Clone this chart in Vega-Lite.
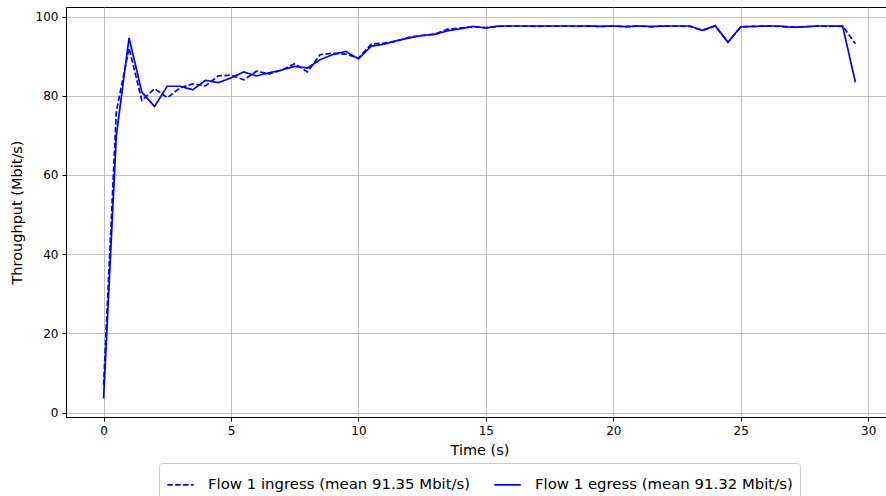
{
  "$schema": "https://vega.github.io/schema/vega-lite/v6.json",
  "width": 827,
  "height": 410,
  "autosize": "none",
  "padding": {"left": 66, "top": 7, "right": 0, "bottom": 79},
  "background": "white",
  "config": {
    "font": "DejaVu Sans",
    "view": {"stroke": "black", "strokeWidth": 1},
    "axis": {
      "labelFont": "DejaVu Sans",
      "titleFont": "DejaVu Sans",
      "labelFontSize": 12,
      "titleFontSize": 14.5,
      "titleFontWeight": "normal",
      "labelColor": "black",
      "titleColor": "black",
      "tickColor": "black",
      "domainColor": "black",
      "tickSize": 4,
      "gridColor": "#b0b0b0",
      "gridWidth": 1,
      "gridOpacity": 0.8
    },
    "legend": {
      "labelFont": "DejaVu Sans",
      "labelFontSize": 14.9,
      "labelColor": "black",
      "labelLimit": 500
    }
  },
  "datasets": {
    "ingress": [
      {"t": 0, "v": 7}, {"t": 0.5, "v": 76}, {"t": 1, "v": 92}, {"t": 1.5, "v": 78.8},
      {"t": 2, "v": 81.8}, {"t": 2.5, "v": 79.5}, {"t": 3, "v": 82}, {"t": 3.5, "v": 83},
      {"t": 4, "v": 82.5}, {"t": 4.5, "v": 85}, {"t": 5, "v": 85.2}, {"t": 5.5, "v": 84},
      {"t": 6, "v": 86.2}, {"t": 6.5, "v": 85.5}, {"t": 7, "v": 86.5}, {"t": 7.5, "v": 88.1},
      {"t": 8, "v": 86}, {"t": 8.5, "v": 90.4}, {"t": 9, "v": 90.7}, {"t": 9.5, "v": 90.5},
      {"t": 10, "v": 89.5}, {"t": 10.5, "v": 93}, {"t": 11, "v": 93.3}, {"t": 11.5, "v": 93.8},
      {"t": 12, "v": 94.8}, {"t": 12.5, "v": 95.2}, {"t": 13, "v": 95.6}, {"t": 13.5, "v": 96.8},
      {"t": 14, "v": 97.1}, {"t": 14.5, "v": 97.4}, {"t": 15, "v": 97.2}, {"t": 15.5, "v": 97.5},
      {"t": 16, "v": 97.6}, {"t": 16.5, "v": 97.6}, {"t": 17, "v": 97.5}, {"t": 17.5, "v": 97.6},
      {"t": 18, "v": 97.6}, {"t": 18.5, "v": 97.5}, {"t": 19, "v": 97.6}, {"t": 19.5, "v": 97.5},
      {"t": 20, "v": 97.6}, {"t": 20.5, "v": 97.5}, {"t": 21, "v": 97.6}, {"t": 21.5, "v": 97.4},
      {"t": 22, "v": 97.6}, {"t": 22.5, "v": 97.6}, {"t": 23, "v": 97.5}, {"t": 23.5, "v": 96.5},
      {"t": 24, "v": 97.6}, {"t": 24.5, "v": 93.5}, {"t": 25, "v": 97.4}, {"t": 25.5, "v": 97.5},
      {"t": 26, "v": 97.6}, {"t": 26.5, "v": 97.5}, {"t": 27, "v": 97.3}, {"t": 27.5, "v": 97.4},
      {"t": 28, "v": 97.6}, {"t": 28.5, "v": 97.5}, {"t": 29, "v": 97.6}, {"t": 29.5, "v": 93.1}
    ],
    "egress": [
      {"t": 0, "v": 3.6}, {"t": 0.5, "v": 70}, {"t": 1, "v": 94.6}, {"t": 1.5, "v": 80.9},
      {"t": 2, "v": 77.3}, {"t": 2.5, "v": 82.4}, {"t": 3, "v": 82.4}, {"t": 3.5, "v": 81.5},
      {"t": 4, "v": 83.9}, {"t": 4.5, "v": 83.3}, {"t": 5, "v": 84.5}, {"t": 5.5, "v": 86},
      {"t": 6, "v": 85}, {"t": 6.5, "v": 85.8}, {"t": 7, "v": 86.5}, {"t": 7.5, "v": 87.4},
      {"t": 8, "v": 87}, {"t": 8.5, "v": 89.1}, {"t": 9, "v": 90.4}, {"t": 9.5, "v": 91.2},
      {"t": 10, "v": 89.3}, {"t": 10.5, "v": 92.5}, {"t": 11, "v": 93}, {"t": 11.5, "v": 93.9},
      {"t": 12, "v": 94.6}, {"t": 12.5, "v": 95.2}, {"t": 13, "v": 95.5}, {"t": 13.5, "v": 96.4},
      {"t": 14, "v": 96.9}, {"t": 14.5, "v": 97.5}, {"t": 15, "v": 97.1}, {"t": 15.5, "v": 97.6},
      {"t": 16, "v": 97.6}, {"t": 16.5, "v": 97.6}, {"t": 17, "v": 97.6}, {"t": 17.5, "v": 97.6},
      {"t": 18, "v": 97.6}, {"t": 18.5, "v": 97.6}, {"t": 19, "v": 97.6}, {"t": 19.5, "v": 97.5},
      {"t": 20, "v": 97.6}, {"t": 20.5, "v": 97.4}, {"t": 21, "v": 97.6}, {"t": 21.5, "v": 97.5},
      {"t": 22, "v": 97.6}, {"t": 22.5, "v": 97.6}, {"t": 23, "v": 97.6}, {"t": 23.5, "v": 96.5},
      {"t": 24, "v": 97.7}, {"t": 24.5, "v": 93.5}, {"t": 25, "v": 97.4}, {"t": 25.5, "v": 97.5},
      {"t": 26, "v": 97.6}, {"t": 26.5, "v": 97.6}, {"t": 27, "v": 97.3}, {"t": 27.5, "v": 97.4},
      {"t": 28, "v": 97.6}, {"t": 28.5, "v": 97.6}, {"t": 29, "v": 97.5}, {"t": 29.5, "v": 83.4}
    ]
  },
  "layer": [
    {
      "data": {"name": "ingress"},
      "transform": [{"calculate": "'Flow 1 ingress (mean 91.35 Mbit/s)'", "as": "series"}],
      "mark": {"type": "line", "color": "#0000ff", "strokeWidth": 1.7},
      "encoding": {
        "x": {"field": "t", "type": "quantitative"},
        "y": {"field": "v", "type": "quantitative"},
        "strokeDash": {"field": "series", "type": "nominal"}
      }
    },
    {
      "data": {"name": "egress"},
      "transform": [{"calculate": "'Flow 1 egress (mean 91.32 Mbit/s)'", "as": "series"}],
      "mark": {"type": "line", "color": "#0000ff", "strokeWidth": 1.7},
      "encoding": {
        "x": {
          "field": "t", "type": "quantitative",
          "scale": {"domain": [-1.475, 30.975], "nice": false, "zero": false},
          "axis": {"title": "Time (s)", "values": [0, 5, 10, 15, 20, 25, 30], "titlePadding": 7, "labelPadding": 4}
        },
        "y": {
          "field": "v", "type": "quantitative",
          "scale": {"domain": [-1.1, 102.4], "nice": false, "zero": false},
          "axis": {"title": "Throughput (Mbit/s)", "values": [0, 20, 40, 60, 80, 100], "titlePadding": 11, "labelPadding": 4}
        },
        "strokeDash": {
          "field": "series", "type": "nominal",
          "scale": {
            "domain": ["Flow 1 ingress (mean 91.35 Mbit/s)", "Flow 1 egress (mean 91.32 Mbit/s)"],
            "range": [[5.5, 2.4], [1, 0]]
          },
          "legend": {
            "title": null,
            "orient": "none",
            "direction": "horizontal",
            "legendX": 93,
            "legendY": 456,
            "symbolType": "stroke",
            "symbolStrokeColor": "#0000ff",
            "symbolStrokeWidth": 1.7,
            "symbolSize": 700,
            "labelOffset": 13,
            "columnPadding": 19,
            "strokeColor": "#cccccc",
            "fillColor": "white",
            "cornerRadius": 3,
            "padding": 7
          }
        }
      }
    }
  ]
}
